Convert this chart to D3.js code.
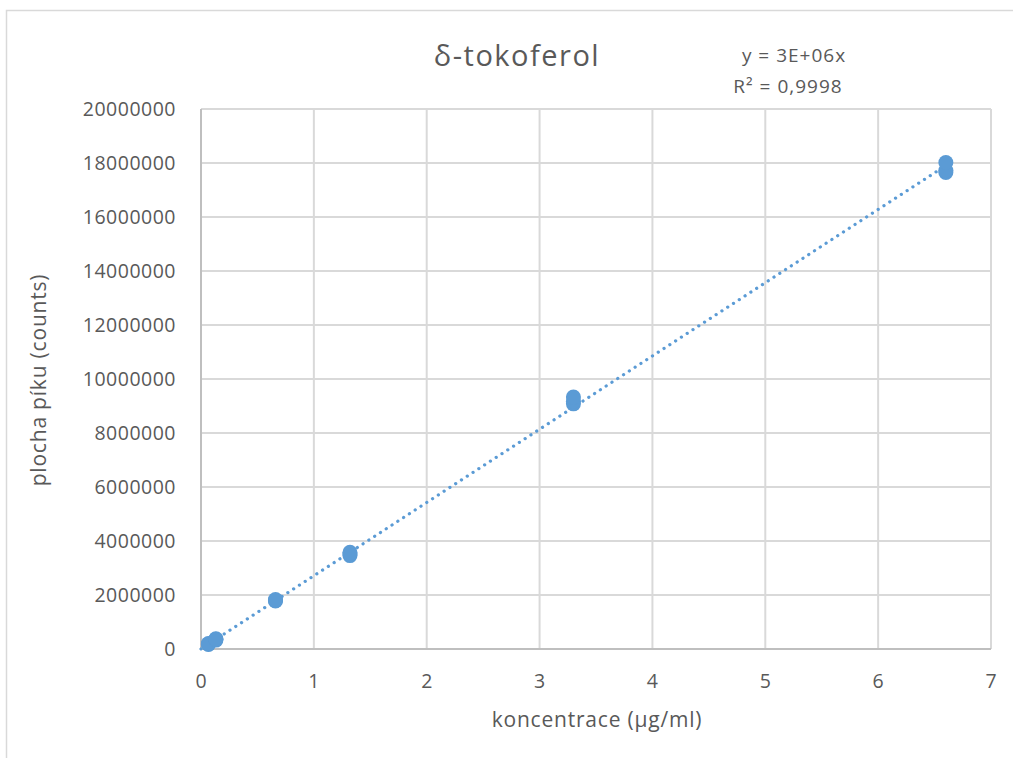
<!DOCTYPE html>
<html>
<head>
    <meta charset="utf-8">
    <title>delta-tokoferol kalibrace</title>
    <script src="https://cdn.jsdelivr.net/npm/d3@7"></script>
    <style>
        body { margin: 0; background: #fff; }
        #chart text { font-family: "Open Sans", "Noto Sans", sans-serif; fill: #595959; }
    </style>
</head>
<body>
<svg id="chart" width="1013" height="758"></svg>
<script>
// data
var concentrations = [0.066, 0.066, 0.066, 0.132, 0.132, 0.132, 0.66, 0.66, 0.66,
                      1.32, 1.32, 1.32, 3.3, 3.3, 3.3, 6.6, 6.6, 6.6];
var peakAreas = [170000, 185000, 200000, 330000, 360000, 380000, 1780000, 1800000, 1830000,
                 3460000, 3520000, 3580000, 9080000, 9180000, 9330000, 17650000, 17720000, 18020000];
var xTicks = [0, 1, 2, 3, 4, 5, 6, 7];
var yTicks = [0, 2000000, 4000000, 6000000, 8000000, 10000000, 12000000, 14000000, 16000000, 18000000, 20000000];
var chartTitle = "δ-tokoferol";
var equationText = "y = 3E+06x";
var rSquaredText = "R² = 0,9998";
var xLabel = "koncentrace (µg/ml)";
var yLabel = "plocha píku (counts)";

var svg = d3.select("#chart");

//outer chart border
svg.append("rect")
    .attr("x", 6.5).attr("y", 10.5)
    .attr("width", 1100).attr("height", 900)
    .attr("fill", "none")
    .attr("stroke", "#d9d9d9")
    .attr("stroke-width", 1.5);

//plot area
var x = d3.scaleLinear().domain([0, 7]).range([201, 991]);
var y = d3.scaleLinear().domain([0, 20000000]).range([649, 109]);

var grid = svg.append("g");
grid.selectAll("line.v")
    .data(xTicks.slice(1))
    .enter().append("line")
    .attr("x1", d => x(d)).attr("x2", d => x(d))
    .attr("y1", y(20000000)).attr("y2", y(0))
    .attr("stroke", "#d9d9d9").attr("stroke-width", 2);
grid.selectAll("line.h")
    .data(yTicks.slice(1))
    .enter().append("line")
    .attr("x1", x(0)).attr("x2", x(7))
    .attr("y1", d => y(d)).attr("y2", d => y(d))
    .attr("stroke", "#d9d9d9").attr("stroke-width", 2);

//axis lines
svg.append("line")
    .attr("x1", x(0)).attr("x2", x(0))
    .attr("y1", y(20000000)).attr("y2", y(0))
    .attr("stroke", "#bfbfbf").attr("stroke-width", 2);
svg.append("line")
    .attr("x1", x(0)).attr("x2", x(7))
    .attr("y1", y(0)).attr("y2", y(0))
    .attr("stroke", "#bfbfbf").attr("stroke-width", 2);

//tick labels
svg.append("g").selectAll("text")
    .data(yTicks)
    .enter().append("text")
    .attr("x", 176)
    .attr("y", d => y(d) + 7)
    .attr("text-anchor", "end")
    .style("font-size", "19.5px")
    .style("letter-spacing", "0.5px")
    .text(d => d);

svg.append("g").selectAll("text")
    .data(xTicks)
    .enter().append("text")
    .attr("x", d => x(d))
    .attr("y", 688)
    .attr("text-anchor", "middle")
    .style("font-size", "19.5px")
    .text(d => d);

//trendline through origin (least squares)
var sxy = d3.sum(concentrations, (c, i) => c * peakAreas[i]);
var sxx = d3.sum(concentrations, c => c * c);
var slope = sxy / sxx;
var xMax = d3.max(concentrations);

svg.append("line")
    .attr("x1", x(0)).attr("y1", y(0))
    .attr("x2", x(xMax)).attr("y2", y(slope * xMax))
    .attr("stroke", "#5b9bd5")
    .attr("stroke-width", 3.2)
    .attr("stroke-linecap", "round")
    .attr("stroke-dasharray", "0.1 6.8");

//data points
svg.append("g").selectAll("circle")
    .data(concentrations)
    .enter().append("circle")
    .attr("cx", d => x(d))
    .attr("cy", (d, i) => y(peakAreas[i]))
    .attr("r", 7.5)
    .attr("fill", "#5b9bd5");

//titles
svg.append("text")
    .attr("x", 517).attr("y", 66)
    .attr("text-anchor", "middle")
    .style("font-size", "29px")
    .style("letter-spacing", "1.5px")
    .text(chartTitle);

svg.append("text")
    .attr("x", 794).attr("y", 62)
    .attr("text-anchor", "middle")
    .style("font-size", "19px")
    .style("letter-spacing", "1px")
    .text(equationText);
svg.append("text")
    .attr("x", 788).attr("y", 93)
    .attr("text-anchor", "middle")
    .style("font-size", "19px")
    .style("letter-spacing", "1px")
    .text(rSquaredText);

svg.append("text")
    .attr("x", 597).attr("y", 727)
    .attr("text-anchor", "middle")
    .style("font-size", "21px")
    .style("letter-spacing", "0.8px")
    .text(xLabel);

svg.append("text")
    .attr("transform", "translate(46,380) rotate(-90)")
    .attr("text-anchor", "middle")
    .style("font-size", "21px")
    .style("letter-spacing", "0.8px")
    .text(yLabel);
</script>
</body>
</html>
